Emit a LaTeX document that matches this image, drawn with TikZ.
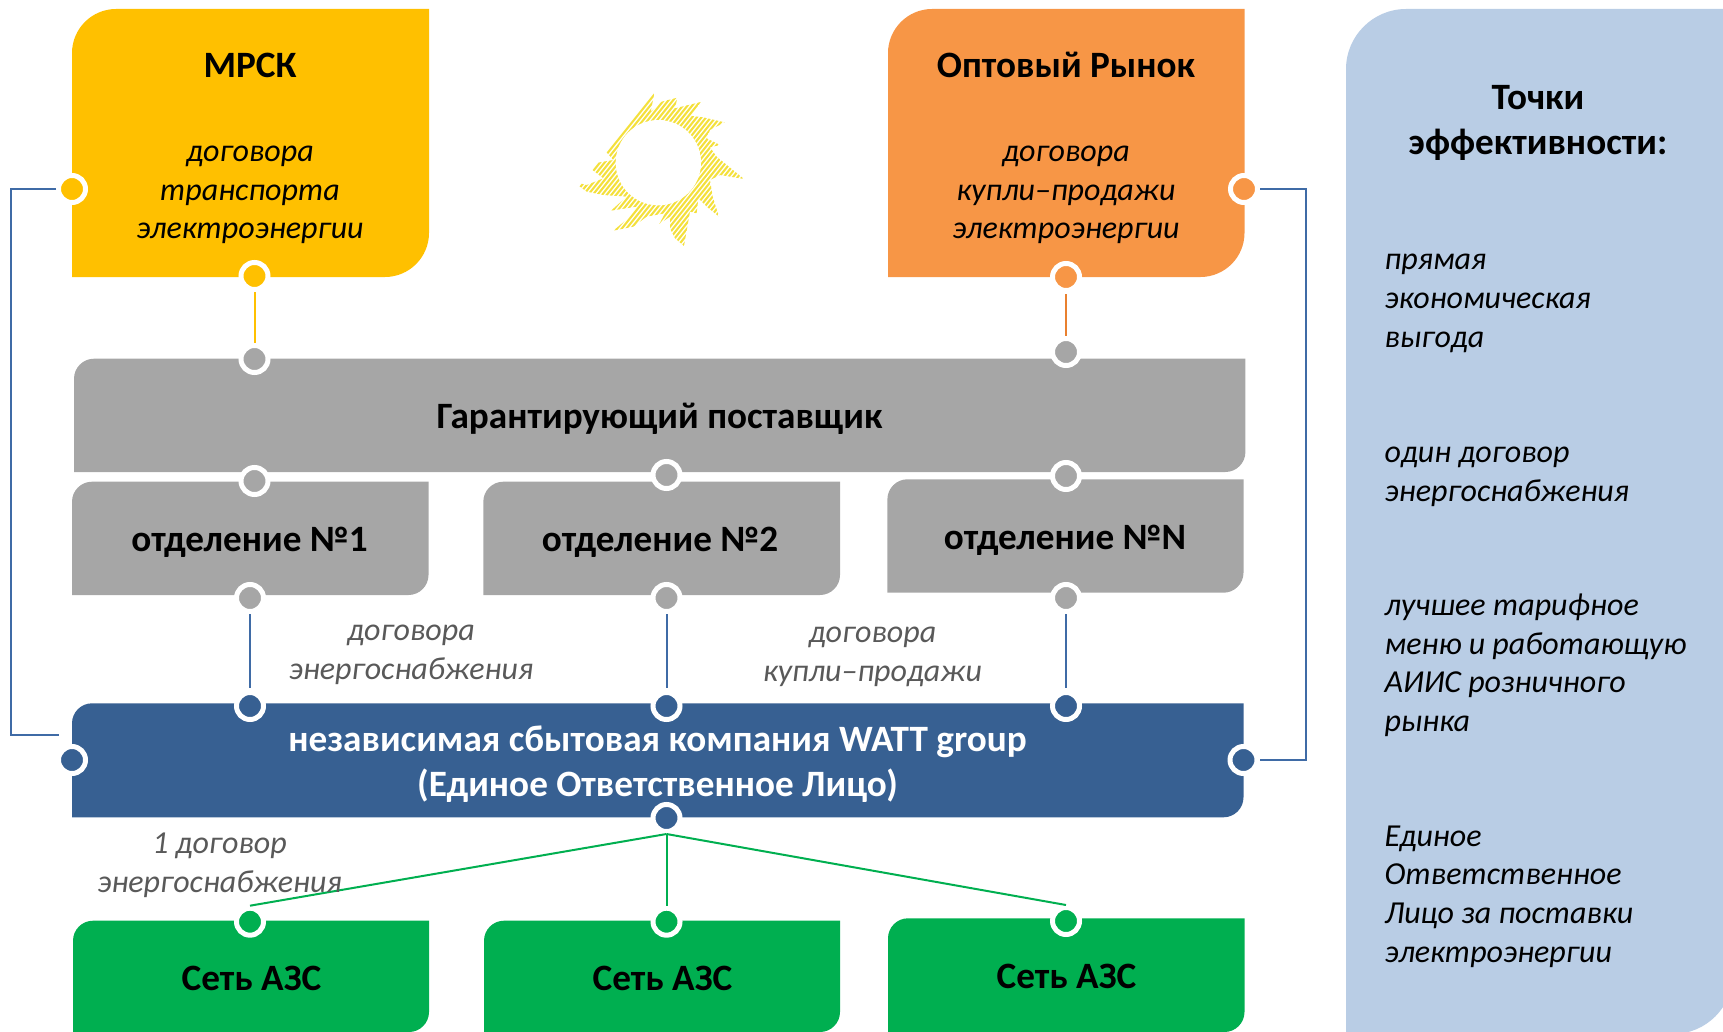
\documentclass[tikz,border=0pt]{standalone}
\usepackage{fontspec}
\setmainfont{Carlito}
\definecolor{cyellow}{HTML}{FFC000}
\definecolor{corange}{HTML}{F79646}
\definecolor{cgrey}{HTML}{A6A6A6}
\definecolor{cblue}{HTML}{376092}
\definecolor{clink}{HTML}{3F6BA6}
\definecolor{cgreen}{HTML}{00AF50}
\definecolor{cpanel}{HTML}{B9CDE5}
\definecolor{clabel}{HTML}{595959}
\definecolor{csun}{HTML}{F4E03C}
\definecolor{corline}{HTML}{E9802F}
% x1 y1 x2 y2 r colour: box with rounded top-left and bottom-right corners
\newcommand{\cornerbox}[6]{%
  \fill[#6] (#1,{#2+#5})
    .. controls (#1,{#2+0.45*#5}) and ({#1+0.45*#5},#2) .. ({#1+#5},#2)
    -- (#3,#2) -- (#3,{#4-#5})
    .. controls (#3,{#4-0.45*#5}) and ({#3-0.45*#5},#4) .. ({#3-#5},#4)
    -- (#1,#4) -- cycle;%
}
\tikzset{
  portdot/.style={circle,draw=white,line width=5pt,fill=#1,minimum size=27pt,inner sep=0pt},
  link/.style={line width=2pt,draw=#1},
  head/.style={inner sep=0pt,align=center,anchor=base,font=\bfseries\fontsize{37.2}{45}\selectfont},
  sub/.style={inner sep=0pt,align=center,anchor=base,font=\itshape\fontsize{32}{38.6}\selectfont},
  tag/.style={inner sep=0pt,align=center,anchor=base,text=clabel,font=\itshape\fontsize{32}{38.6}\selectfont},
  note/.style={inner sep=0pt,align=left,anchor=base west,font=\itshape\fontsize{32}{38.6}\selectfont},
}
\begin{document}
\begin{tikzpicture}[x=1pt,y=-1pt]
\useasboundingbox (0,0) rectangle (1723,1032);
% boxes
\cornerbox{72}{9}{429}{277}{44}{cyellow}
\cornerbox{888}{9}{1244.5}{277}{44}{corange}
\cornerbox{74}{358.7}{1245.4}{472}{20}{cgrey}
\cornerbox{72}{481.7}{428.5}{595}{20}{cgrey}
\cornerbox{483.3}{481.7}{840}{595}{20}{cgrey}
\cornerbox{887.4}{479.3}{1243.5}{592.7}{20}{cgrey}
\cornerbox{72}{703.3}{1243.5}{817.3}{20}{cblue}
\cornerbox{73}{920.7}{429}{1032}{20}{cgreen}
\cornerbox{484}{920.7}{840}{1032}{20}{cgreen}
\cornerbox{888}{918.3}{1244.5}{1032}{20}{cgreen}
\begin{scope}
\clip (0,0) rectangle (1723,1032);
\cornerbox{1346}{9}{1733}{1034}{60}{cpanel}
\end{scope}
% sun
\begin{scope}[shift={(520,60)},scale=1/3]
\begin{scope}
\clip (397,78)--(402,105)--(392,155)--(425,125)--(472,113)--(465,145)--(542,126)--(515,168)--(550,172)--(614,187)--(570,210)--(560,235)--(600,255)--(570,262)--(590,290)--(672,357)--(600,345)--(570,360)--(578,410)--(597,470)--(560,440)--(535,415)--(530,460)--(510,455)--(492,558)--(465,535)--(450,505)--(450,470)--(418,492)--(435,460)--(380,470)--(340,500)--(280,512)--(330,470)--(350,440)--(273,452)--(320,410)--(250,405)--(200,395)--(160,365)--(200,375)--(250,355)--(198,315)--(250,305)--(280,300)--(245,260)--(230,215)--(248,183)--(262,230)--(300,200)--(318,180)--(310,150)--(288,123)--(315,140)--(322,175)--(335,135)--(370,110)--cycle;
\foreach \o in {6,20,...,1000}{
  \draw[csun,line width=2.1pt] (\o,600) -- ({\o+440},50);
}
\end{scope}
\fill[white] (415,308) circle (128);
\end{scope}
% ports
\node[portdot=cyellow] (yl) at (72,189) {};
\node[portdot=cyellow] (yb) at (254.5,276) {};
\node[portdot=corange] (or) at (1244,189) {};
\node[portdot=corange] (ob) at (1066,277) {};
\node[portdot=cgrey] (gt1) at (254.5,359) {};
\node[portdot=cgrey] (gt3) at (1066,352) {};
\node[portdot=cgrey] (gb1) at (254.5,481) {};
\node[portdot=cgrey] (gb2) at (666.5,475) {};
\node[portdot=cgrey] (gb3) at (1066,476) {};
\node[portdot=cgrey] (d1) at (250,598) {};
\node[portdot=cgrey] (d2) at (666.5,598) {};
\node[portdot=cgrey] (d3) at (1066,598) {};
\node[portdot=cblue] (bt1) at (250,706) {};
\node[portdot=cblue] (bt2) at (666.5,706) {};
\node[portdot=cblue] (bt3) at (1066,706) {};
\node[portdot=cblue] (bl) at (72,760) {};
\node[portdot=cblue] (br) at (1243.5,760) {};
\node[portdot=cblue] (bb) at (666.5,818) {};
\node[portdot=cgreen] (s1) at (250,921.7) {};
\node[portdot=cgreen] (s2) at (666.5,921.7) {};
\node[portdot=cgreen] (s3) at (1066,921) {};
% connectors
\coordinate (leftend) at (59,735);
\draw[link=clink] (yl.west) -- (11,189) -- (11,735) -- (leftend);
\draw[link=clink] (or.east) -- (1306,189) -- (1306,760) -- (br.east);
\draw[link=cyellow] (yb.south) -- (gt1.north);
\draw[link=corline,shorten <=1pt] (ob.south) -- (gt3.north);
\draw[link=clink,shorten >=2.5pt] (d1.south) -- (bt1.north);
\draw[link=clink,shorten >=2.5pt] (d2.south) -- (bt2.north);
\draw[link=clink,shorten >=2.5pt] (d3.south) -- (bt3.north);
\draw[link=cgreen] (bb.south) -- (s1.north);
\draw[link=cgreen] (bb.south) -- (s2.north);
\draw[link=cgreen] (bb.south) -- (s3.north);
% text
\node[head] (t1) at (250,77.5) {МРСК};
\node[sub] (t2) at (250,239) {договора\\транспорта\\электроэнергии};
\node[head] (t3) at (1066,77.5) {Оптовый Рынок};
\node[sub] (t4) at (1066,239) {договора\\купли–продажи\\электроэнергии};
\node[head] (t5) at (659.5,428.5) {Гарантирующий поставщик};
\node[head] (t6) at (249.5,551.5) {отделение №1};
\node[head] (t7) at (660,551.5) {отделение №2};
\node[head] (t8) at (1065,549.5) {отделение №N};
\node[head,text=white] (t9) at (657.5,796.5) {независимая сбытовая компания WATT group\\(Единое Ответственное Лицо)};
\node[tag] (t10) at (411,679) {договора\\энергоснабжения};
\node[tag] (t11) at (872.5,681.5) {договора\\купли–продажи};
\node[tag] (t12) at (219.5,892) {1 договор\\энергоснабжения};
\node[head] (t13) at (251.5,990) {Сеть АЗС};
\node[head] (t14) at (662.5,990) {Сеть АЗС};
\node[head] (t15) at (1066.5,988) {Сеть АЗС};
\node[head] (p0) at (1538,155) {Точки\\эффективности:};
\node[note] (p1) at (1384.5,347) {прямая\\экономическая\\выгода};
\node[note] (p2) at (1384.5,501) {один договор\\энергоснабжения};
\node[note] (p3) at (1384.5,731.5) {лучшее тарифное\\меню и работающую\\АИИС розничного\\рынка};
\node[note] (p4) at (1384.5,962) {Единое\\Ответственное\\Лицо за поставки\\электроэнергии};
\end{tikzpicture}
\end{document}
